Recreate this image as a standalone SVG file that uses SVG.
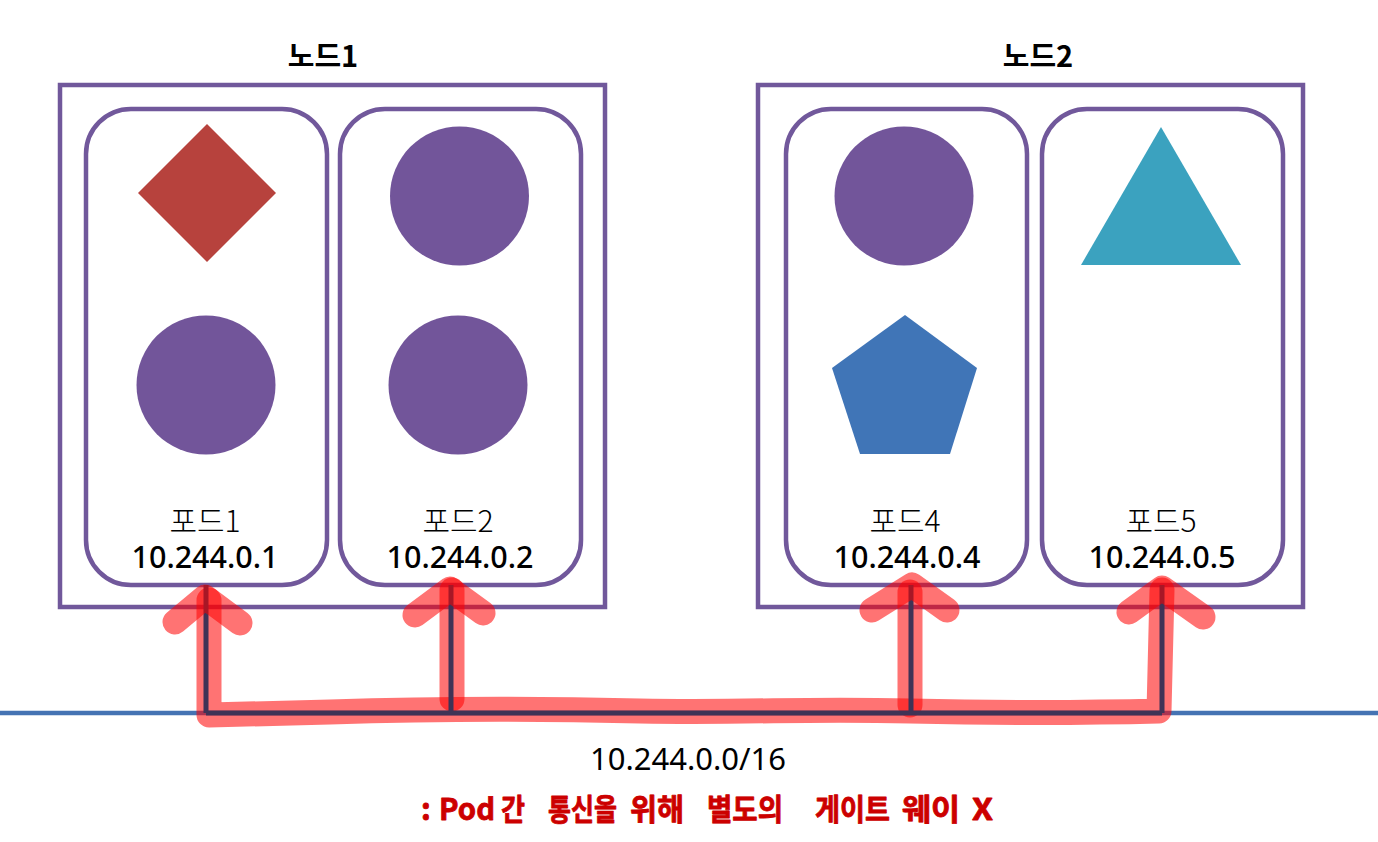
<svg xmlns="http://www.w3.org/2000/svg" width="1378" height="842" viewBox="0 0 1378 842">
<style>
text{font-family:"Noto Sans","Noto Sans CJK KR",sans-serif;text-anchor:middle;fill:#000}
.box{fill:#fff;stroke:#71589b;stroke-width:4.500}
.pod{fill:none;stroke:#71589b;stroke-width:4.500}
.title{font-family:"Noto Sans CJK KR",sans-serif;font-size:29px;font-weight:700}
.name{font-family:"Noto Sans CJK KR",sans-serif;font-size:30px;font-weight:300}
.ip{font-size:30.500px;font-weight:500}
.cidr{font-size:31px}
.note{font-family:"Noto Sans CJK KR",sans-serif;font-size:30px;font-weight:700;fill:#cc0000;text-anchor:start;stroke:#cc0000;stroke-width:.8;stroke-linejoin:round}
.wire{fill:none;stroke:#3f3356;stroke-width:5}
.hl{fill:none;stroke:#ff0000;stroke-opacity:.55;stroke-width:25;stroke-linecap:round;stroke-linejoin:round}
</style>
<rect width="1378" height="842" fill="#fff"/>
<g id="node1"><rect class="box" x="60" y="85" width="545" height="522"/><text class="title" x="323" y="67">노드1</text></g>
<g id="node2"><rect class="box" x="758" y="85" width="545" height="522"/><text class="title" x="1038" y="67">노드2</text></g>
<g id="pod1"><rect class="pod" x="86" y="109" width="241" height="476" rx="45"/>
<polygon points="207,124 276,193 207,262 138,193" fill="#b7423d"/><circle cx="206" cy="385" r="69.500" fill="#72559a"/>
<text class="name" x="205" y="532">포드1</text><text class="ip" x="205" y="568">10.244.0.1</text></g>
<g id="pod2"><rect class="pod" x="340" y="109" width="241" height="476" rx="45"/>
<circle cx="459.500" cy="196" r="69.500" fill="#72559a"/><circle cx="458" cy="385" r="69.500" fill="#72559a"/>
<text class="name" x="458" y="532">포드2</text><text class="ip" x="460" y="568">10.244.0.2</text></g>
<g id="pod4"><rect class="pod" x="786" y="109" width="241" height="476" rx="45"/>
<circle cx="904" cy="196" r="69.500" fill="#72559a"/><polygon points="905,315 977,368 950,454 860,454 832,368" fill="#4075b7"/>
<text class="name" x="905" y="532">포드4</text><text class="ip" x="907" y="568">10.244.0.4</text></g>
<g id="pod5"><rect class="pod" x="1042" y="109" width="241" height="476" rx="45"/>
<polygon points="1161,127 1241,265 1081,265" fill="#3ba2bf"/>
<text class="name" x="1161" y="532">포드5</text><text class="ip" x="1162" y="568">10.244.0.5</text></g>
<g id="connectors">
<line x1="0" y1="713" x2="1378" y2="713" stroke="#4573b3" stroke-width="4.500"/>
<path class="hl" d="M209 600V715L330 712C420 709 520 708 640 711C760 713 800 708 910 711C1000 713 1080 713 1159 711L1162 590"/>
<path class="hl" d="M452 590V699"/>
<path class="hl" d="M910 592V705"/>
<path class="wire" d="M206 585V713M451 585V713M911 585V713M1162 585V713M206 713H1162"/>
<path class="hl" d="M175 622L205 597L240 623"/>
<path class="hl" d="M415 615L450 589L483 613"/>
<path class="hl" d="M872 610L912 585L947 610"/>
<path class="hl" d="M1129 612L1162 588L1203 617"/>
</g>
<g id="labels">
<text class="cidr" x="688" y="770">10.244.0.0/16</text>
<text class="note" x="421" y="820">:</text>
<text class="note" x="439" y="820" textLength="56" lengthAdjust="spacingAndGlyphs">Pod</text>
<text class="note" x="501" y="820" textLength="24" lengthAdjust="spacingAndGlyphs">간</text>
<text class="note" x="548" y="820" textLength="69" lengthAdjust="spacingAndGlyphs">통신을</text>
<text class="note" x="630" y="820" textLength="54" lengthAdjust="spacingAndGlyphs">위해</text>
<text class="note" x="707" y="820" textLength="76" lengthAdjust="spacingAndGlyphs">별도의</text>
<text class="note" x="815" y="820" textLength="75" lengthAdjust="spacingAndGlyphs">게이트</text>
<text class="note" x="902" y="820" textLength="58" lengthAdjust="spacingAndGlyphs">웨이</text>
<text class="note" x="972" y="820" textLength="21" lengthAdjust="spacingAndGlyphs">X</text>
</g>
</svg>
